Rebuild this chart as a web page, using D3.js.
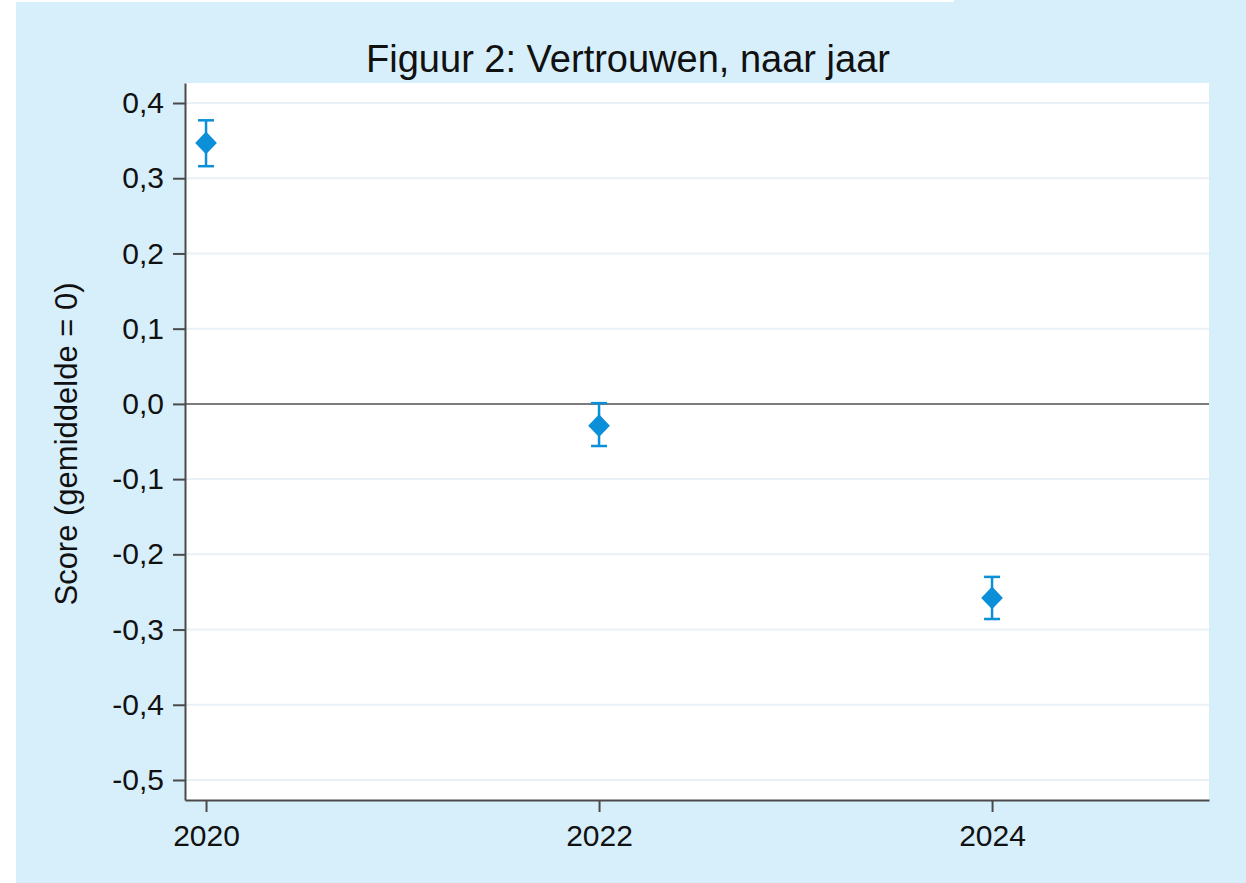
<!DOCTYPE html>
<html lang="nl">
<head>
<meta charset="UTF-8">
<script src="https://d3js.org/d3.v7.min.js"></script>
<style>
  body { margin: 0; background: #ffffff; }
  svg { display: block; font-family: Arial, "Liberation Sans", sans-serif; }
  .grid line { stroke: #e8f1f6; stroke-width: 2px; }
  .axis path, .axis line { stroke: #4a4a4a; stroke-width: 2px; }
  .axis text { fill: #111; font-size: 30px; }
</style>
</head>
<body>
<script>
  const years = [2020, 2022, 2024];
  const scores = [0.347, -0.029, -0.258];
  const ciLow = [0.316, -0.056, -0.286];
  const ciHigh = [0.377, 0.001, -0.230];
  const yTicks = [0.4, 0.3, 0.2, 0.1, 0.0, -0.1, -0.2, -0.3, -0.4, -0.5];

  const width = 1246, height = 883;
  const plot = { left: 185, right: 1209, top: 83, bottom: 800 };

  const svg = d3.select('body').append('svg')
      .attr('width', width)
      .attr('height', height);

  // outer background
  svg.append('rect').attr('x', 16).attr('y', 0).attr('width', width - 16).attr('height', height)
      .attr('fill', '#d7effb');
  svg.append('rect').attr('x', 16).attr('y', 0).attr('width', 938).attr('height', 2)
      .attr('fill', '#ffffff');

  const x = d3.scaleLinear().domain([2019.893, 2025.104]).range([plot.left, plot.right]);
  const y = d3.scaleLinear().domain([-0.5266, 0.4266]).range([plot.bottom, plot.top]);

  svg.append('rect')
      .attr('x', plot.left).attr('y', plot.top)
      .attr('width', plot.right - plot.left).attr('height', plot.bottom - plot.top)
      .attr('fill', '#ffffff');

  svg.append('g').attr('class', 'grid')
    .selectAll('line').data(yTicks).enter().append('line')
      .attr('x1', plot.left).attr('x2', plot.right)
      .attr('y1', d => y(d)).attr('y2', d => y(d));

  // zero reference line
  svg.append('line')
      .attr('x1', plot.left).attr('x2', plot.right)
      .attr('y1', y(0)).attr('y2', y(0))
      .attr('stroke', '#7b7b7b').attr('stroke-width', 2);

  const fmt = d => d3.format('.1f')(d).replace('.', ',').replace('−', '-');

  svg.append('g').attr('class', 'axis')
      .attr('transform', `translate(${plot.left},0)`)
      .call(d3.axisLeft(y).tickValues(yTicks).tickFormat(fmt).tickSize(12).tickPadding(9).tickSizeOuter(0))
      .call(g => g.selectAll('text').text(fmt));

  svg.append('g').attr('class', 'axis')
      .attr('transform', `translate(0,${plot.bottom})`)
      .call(d3.axisBottom(x).tickValues(years).tickFormat(d3.format('d')).tickSize(12).tickPadding(13).tickSizeOuter(0));

  const color = '#0a8fd8';
  const pts = years.map((yr, i) => ({ yr, s: scores[i], lo: ciLow[i], hi: ciHigh[i] }));

  const eb = svg.append('g').attr('stroke', color).attr('stroke-width', 2.5).attr('fill', 'none');
  eb.selectAll('.v').data(pts).enter().append('line')
      .attr('x1', d => x(d.yr)).attr('x2', d => x(d.yr))
      .attr('y1', d => y(d.lo)).attr('y2', d => y(d.hi));
  eb.selectAll('.ct').data(pts).enter().append('line')
      .attr('x1', d => x(d.yr) - 8).attr('x2', d => x(d.yr) + 8)
      .attr('y1', d => y(d.hi)).attr('y2', d => y(d.hi));
  eb.selectAll('.cb').data(pts).enter().append('line')
      .attr('x1', d => x(d.yr) - 8).attr('x2', d => x(d.yr) + 8)
      .attr('y1', d => y(d.lo)).attr('y2', d => y(d.lo));

  svg.append('g').selectAll('path').data(pts).enter().append('path')
      .attr('d', d3.symbol().type(d3.symbolDiamond2).size(300))
      .attr('transform', d => `translate(${x(d.yr)},${y(d.s)}) scale(1,1.05)`)
      .attr('fill', color);

  svg.append('text')
      .attr('x', 628).attr('y', 72)
      .attr('text-anchor', 'middle')
      .attr('font-size', 38)
      .attr('fill', '#111')
      .text('Figuur 2: Vertrouwen, naar jaar');

  svg.append('text')
      .attr('transform', `translate(77,444) rotate(-90)`)
      .attr('text-anchor', 'middle')
      .attr('font-size', 31)
      .attr('fill', '#111')
      .text('Score (gemiddelde = 0)');
</script>
</body>
</html>
